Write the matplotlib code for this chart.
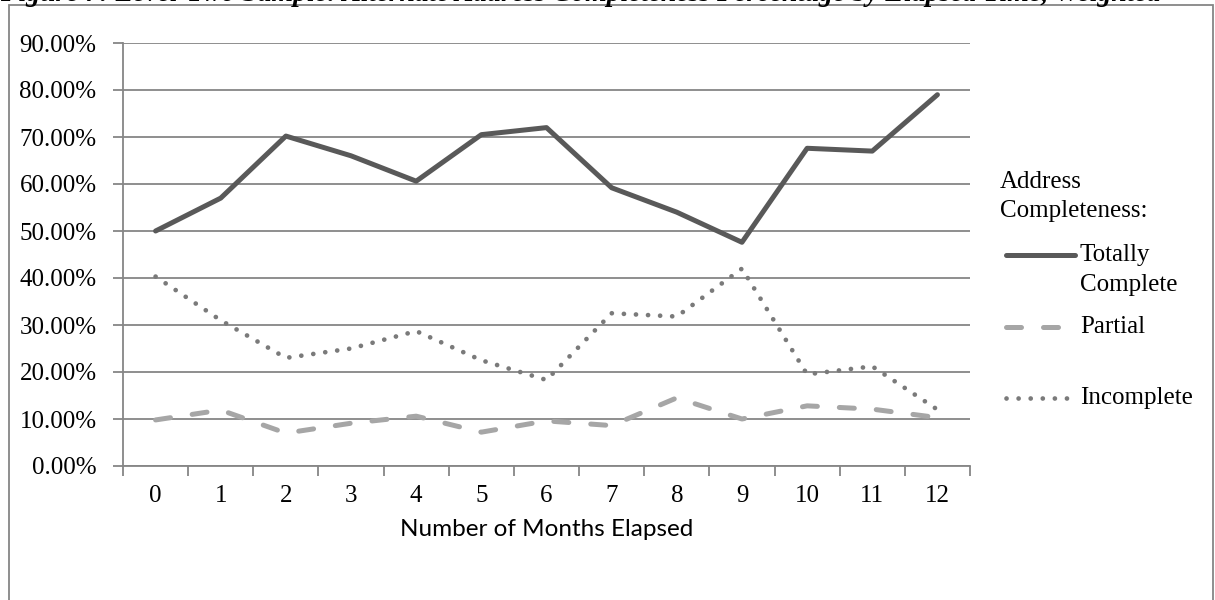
import matplotlib.pyplot as plt
from matplotlib.lines import Line2D
from matplotlib.patches import Rectangle
from matplotlib.ticker import FuncFormatter, MultipleLocator

months = list(range(13))
month_labels = [str(m) for m in months]
totally_complete = [50.0, 57.0, 70.2, 66.0, 60.6, 70.5, 72.0, 59.2, 54.0, 47.6, 67.6, 67.0, 79.0]
partial = [9.8, 11.9, 7.0, 9.1, 10.6, 7.2, 9.6, 8.6, 14.5, 10.0, 12.8, 12.1, 10.3]
incomplete = [40.3, 31.0, 23.0, 25.0, 28.7, 22.5, 18.3, 32.5, 31.8, 42.0, 19.5, 21.2, 12.0]

serif = "Liberation Serif"
grid_col = "#868686"
W, H = 1215, 600

fig = plt.figure(figsize=(12.15, 6), dpi=100)

# chart frame (runs past the right/bottom of the image)
fig.add_artist(Rectangle((9 / W, -0.05), (1213 - 9) / W, 1.05 - 5 / H,
                         transform=fig.transFigure, fill=False,
                         edgecolor=grid_col, lw=1.3))

# title, mostly cut off at the top
fig.text(0.0, 1 - 1.0 / H,
         "Figure 7: Level-Two Sample: Alternate Address Completeness Percentage by Elapsed Time, Weighted",
         family=serif, fontsize=20, fontweight="bold", fontstyle="italic",
         ha="left", va="baseline")

ax = fig.add_axes([123 / W, 1 - 466 / H, (970 - 123) / W, (466 - 43) / H])

ax.plot(months, totally_complete, color="#595959", lw=3.6,
        solid_joinstyle="round", solid_capstyle="round", zorder=3)
ax.plot(months, partial, color="#a6a6a6", lw=3.6, dashes=(3, 4.4),
        dash_capstyle="round", zorder=3)
ax.plot(months, incomplete, color="#7a7a7a", lw=3.4, dashes=(0.01, 2.55),
        dash_capstyle="round", zorder=3)

ax.set_xlim(-0.5, 12.5)
ax.set_ylim(0, 90)
ax.yaxis.set_major_locator(MultipleLocator(10))
ax.yaxis.set_major_formatter(FuncFormatter(lambda v, p: "%.2f%%" % v))
ax.grid(axis="y", color=grid_col, lw=1.3)
ax.set_axisbelow(True)

ax.set_xticks(months)
ax.set_xticklabels(month_labels)
ax.set_xticks([m - 0.5 for m in months] + [12.5], minor=True)
ax.tick_params(axis="x", which="major", length=0, pad=14)
ax.tick_params(axis="x", which="minor", length=7, width=1.3, color=grid_col)
ax.tick_params(axis="y", length=7, width=1.3, color=grid_col, pad=12)
for lab in ax.get_xticklabels() + ax.get_yticklabels():
    lab.set_family(serif)
    lab.set_fontsize(18)

for s in ["top", "right"]:
    ax.spines[s].set_visible(False)
for s in ["left", "bottom"]:
    ax.spines[s].set_color(grid_col)
    ax.spines[s].set_linewidth(1.3)

ax.set_xlabel("Number of Months Elapsed", family="Lato", fontsize=17.5)
ax.xaxis.set_label_coords(0.5, (466 - 530) / 423)
ax.xaxis.label.set_va("center")

# legend drawn by hand (Excel-style layout)
def fy(py):
    return 1 - py / H

fig.text(1000 / W, fy(182), "Address", family=serif, fontsize=18, va="center")
fig.text(1000 / W, fy(211), "Completeness:", family=serif, fontsize=18, va="center")
fig.add_artist(Line2D([1006 / W, 1075 / W], [fy(255)] * 2, color="#595959",
                      lw=3.6, solid_capstyle="round"))
fig.text(1080 / W, fy(255), "Totally", family=serif, fontsize=18, va="center")
fig.text(1080 / W, fy(285), "Complete", family=serif, fontsize=18, va="center")
fig.add_artist(Line2D([1006 / W, 1066 / W], [fy(327)] * 2, color="#a6a6a6",
                      lw=3.6, dashes=(3, 4.4), dash_capstyle="round"))
fig.text(1080 / W, fy(327), "Partial", family=serif, fontsize=18, va="center")
fig.add_artist(Line2D([1006 / W, 1070 / W], [fy(398)] * 2, color="#7a7a7a",
                      lw=3.4, dashes=(0.01, 2.55), dash_capstyle="round"))
fig.text(1080 / W, fy(398), "Incomplete", family=serif, fontsize=18, va="center")

fig.savefig("out.png", dpi=100)
